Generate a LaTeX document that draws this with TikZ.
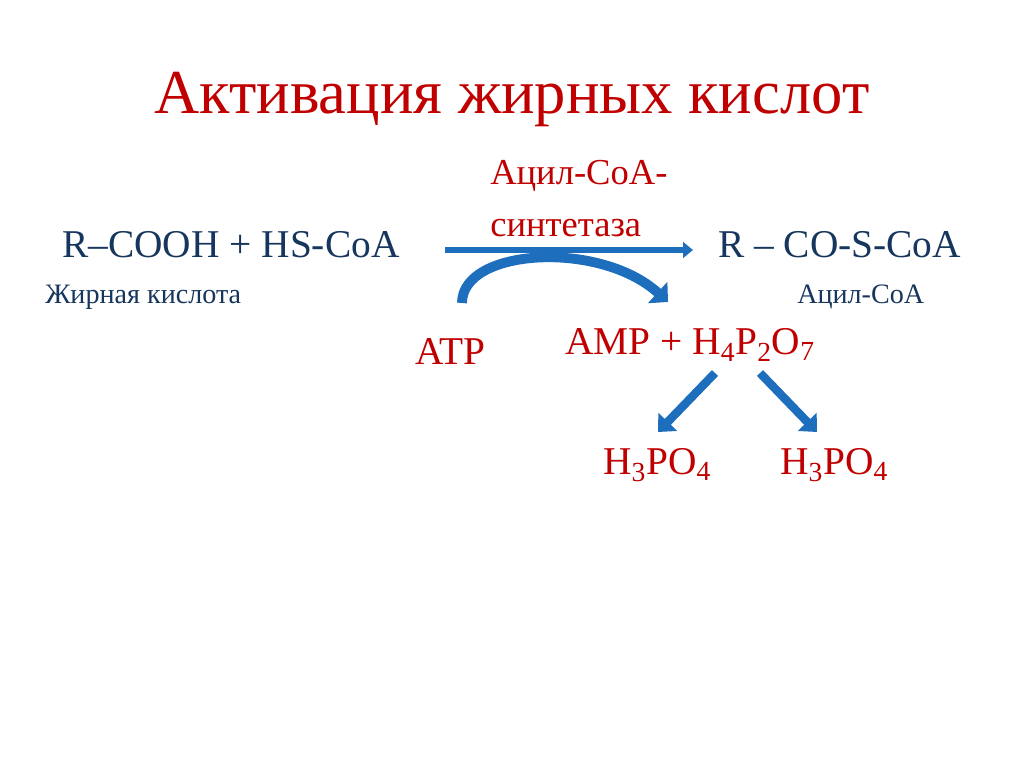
\documentclass[tikz,border=0pt]{standalone}
\usepackage{fontspec}
\setmainfont{Liberation Serif}
\usetikzlibrary{arrows.meta}
\definecolor{tred}{RGB}{192,0,0}
\definecolor{tblue}{RGB}{23,54,93}
\definecolor{abl}{RGB}{30,110,190}
\begin{document}
\begin{tikzpicture}[x=0.025cm,y=-0.025cm,
  txt/.style={inner sep=0pt,anchor=center},
  big/.style={font=\fontsize{28}{32}\selectfont},
  small/.style={font=\fontsize{20}{24}\selectfont},
  ]
\useasboundingbox (0,0) rectangle (1024,767);
\node[txt,text=tred,font=\fontsize{44.5}{50}\selectfont] (title) at (512,100) {Активация жирных кислот};
\node[txt,text=tred,font=\fontsize{26}{37}\selectfont,align=left,anchor=west] (enz) at (490,199) {Ацил-CoA-\\синтетаза};
\node[txt,text=tblue,big,anchor=west] (sub) at (62,245) {R–COOH + HS-CoA};
\node[txt,text=tblue,big,anchor=west] (prod) at (718,245) {R – CO-S-CoA};
\node[txt,text=tblue,small,anchor=west] (fa) at (45,297) {Жирная кислота};
\node[txt,text=tblue,small,anchor=west] (acoa) at (797,297) {Ацил-CoA};
\node[txt,text=tred,big,anchor=west] (atp) at (415,352) {ATP};
\node[txt,text=tred,big,anchor=west] (amp) at (565,345) {AMP + H\textsubscript{4}P\textsubscript{2}O\textsubscript{7}};
\node[txt,text=tred,big,anchor=west] (p1) at (603,465) {H\textsubscript{3}PO\textsubscript{4}};
\node[txt,text=tred,big,anchor=west] (p2) at (780,465) {H\textsubscript{3}PO\textsubscript{4}};
\coordinate (h1) at (445,250);
\coordinate (h2) at (693,250);
\draw[abl,line width=4.5pt,-{Triangle[length=7pt,width=11pt]}] (h1) -- (h2);
\coordinate (c1) at (462,303);
\coordinate (c2) at (668,302);
\draw[abl,line width=7pt,-{Triangle[length=10pt,width=20pt]}] (c1) .. controls (462,248) and (600,240) .. (c2);
\coordinate (d1) at (715,373);
\coordinate (d2) at (658,432);
\coordinate (e1) at (760,373);
\coordinate (e2) at (817,432);
\draw[abl,line width=6pt,-{Triangle[length=10pt,width=18pt]}] (d1) -- (d2);
\draw[abl,line width=6pt,-{Triangle[length=10pt,width=18pt]}] (e1) -- (e2);
\end{tikzpicture}
\end{document}
